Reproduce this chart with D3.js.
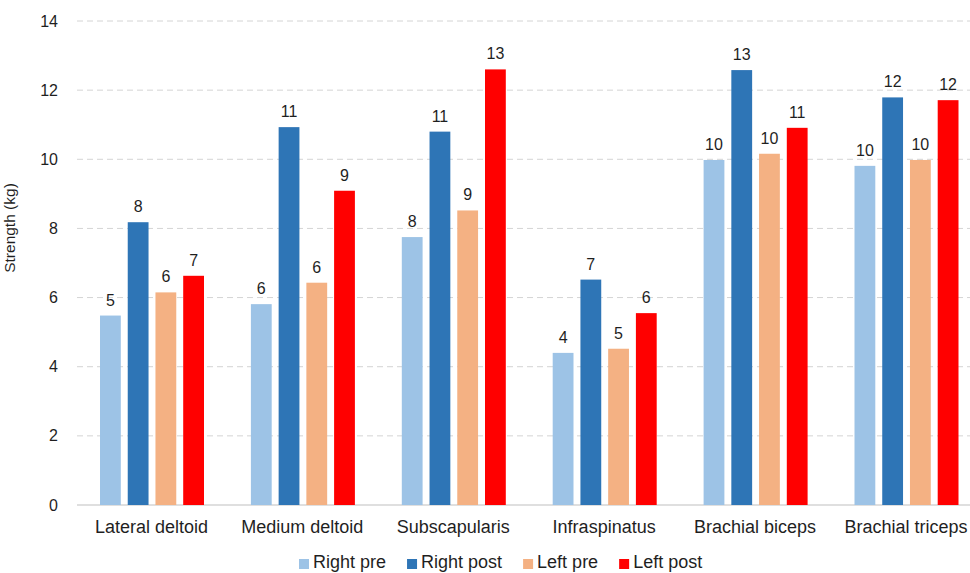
<!DOCTYPE html>
<html>
<head>
<meta charset="utf-8">
<style>
  body { margin: 0; background: #fff; }
  text { font-family: "Liberation Sans", Arial, sans-serif; fill: #1f1f1f; }
</style>
</head>
<body>
<div class="container"></div>
<script src="https://d3js.org/d3.v7.min.js"></script>
<script>
  var categories = ['Lateral deltoid', 'Medium deltoid', 'Subscapularis', 'Infraspinatus', 'Brachial biceps', 'Brachial triceps'];
  var seriesNames = ['Right pre', 'Right post', 'Left pre', 'Left post'];
  var rightPre  = [5.48, 5.81, 7.75, 4.40, 9.98, 9.81];
  var rightPost = [8.18, 10.93, 10.80, 6.52, 12.58, 11.79];
  var leftPre   = [6.15, 6.43, 8.52, 4.52, 10.16, 9.98];
  var leftPost  = [6.63, 9.09, 12.60, 5.55, 10.91, 11.71];
  var yTicks = [0, 2, 4, 6, 8, 10, 12, 14];
  var colors = ['#9dc3e6', '#2e75b6', '#f4b183', '#ff0000'];

  var series = [rightPre, rightPost, leftPre, leftPost];
  var width = 970, height = 573;

  var svg = d3.select('.container').append('svg')
      .attr('width', width)
      .attr('height', height);

  var x = d3.scaleBand().domain(categories).range([76, 981.4]);
  var xInner = d3.scaleBand().domain(seriesNames).range([24, 128]).paddingInner(0.25);
  var y = d3.scaleLinear().domain([0, 14]).range([505, 21]);

  // gridlines
  svg.append('g').selectAll('line')
      .data(yTicks.filter(function(d) { return d > 0; }))
      .enter().append('line')
      .attr('x1', 77).attr('x2', width)
      .attr('y1', function(d) { return y(d); })
      .attr('y2', function(d) { return y(d); })
      .attr('stroke', '#d4d4d4')
      .attr('stroke-dasharray', '6,4');

  // y axis labels
  var yAxis = svg.append('g')
      .attr('transform', 'translate(77,0)')
      .call(d3.axisLeft(y).tickValues(yTicks).tickSize(0).tickPadding(19).tickFormat(d3.format('d')));
  yAxis.select('.domain').remove();
  yAxis.selectAll('text').style('font-size', '16px').attr('fill', '#1f1f1f')
      .style('font-family', '"Liberation Sans", Arial, sans-serif');

  // baseline
  svg.append('line')
      .attr('x1', 77).attr('x2', width)
      .attr('y1', y(0)).attr('y2', y(0))
      .attr('stroke', '#d4d4d4').attr('stroke-width', 1.5);

  // bars
  var groups = svg.append('g').selectAll('g')
      .data(categories)
      .enter().append('g')
      .attr('transform', function(d) { return 'translate(' + x(d) + ',0)'; });

  groups.each(function(cat, ci) {
    var g = d3.select(this);
    seriesNames.forEach(function(s, si) {
      var v = series[si][ci];
      g.append('rect')
        .attr('x', xInner(s))
        .attr('width', xInner.bandwidth())
        .attr('y', y(v))
        .attr('height', y(0) - y(v))
        .attr('fill', colors[si]);
      g.append('text')
        .attr('x', xInner(s) + xInner.bandwidth() / 2)
        .attr('y', y(v) - 10)
        .attr('text-anchor', 'middle')
        .style('font-size', '16px')
        .text(Math.round(v));
    });
  });

  // category labels
  svg.append('g').selectAll('text')
      .data(categories)
      .enter().append('text')
      .attr('x', function(d) { return x(d) + x.bandwidth() / 2; })
      .attr('y', 533)
      .attr('text-anchor', 'middle')
      .style('font-size', '18px')
      .text(function(d) { return d; });

  // y title
  svg.append('text')
      .attr('transform', 'translate(15,228) rotate(-90)')
      .attr('text-anchor', 'middle')
      .style('font-size', '15.5px')
      .text('Strength (kg)');

  // legend
  var legend = svg.append('g');
  var lx = 299;
  seriesNames.forEach(function(s, i) {
    legend.append('rect')
      .attr('x', lx).attr('y', 559)
      .attr('width', 10).attr('height', 10)
      .attr('fill', colors[i]);
    var t = legend.append('text')
      .attr('x', lx + 14).attr('y', 568)
      .style('font-size', '18px')
      .text(s);
    lx += 14 + t.node().getComputedTextLength() + 21;
  });
</script>
</body>
</html>
